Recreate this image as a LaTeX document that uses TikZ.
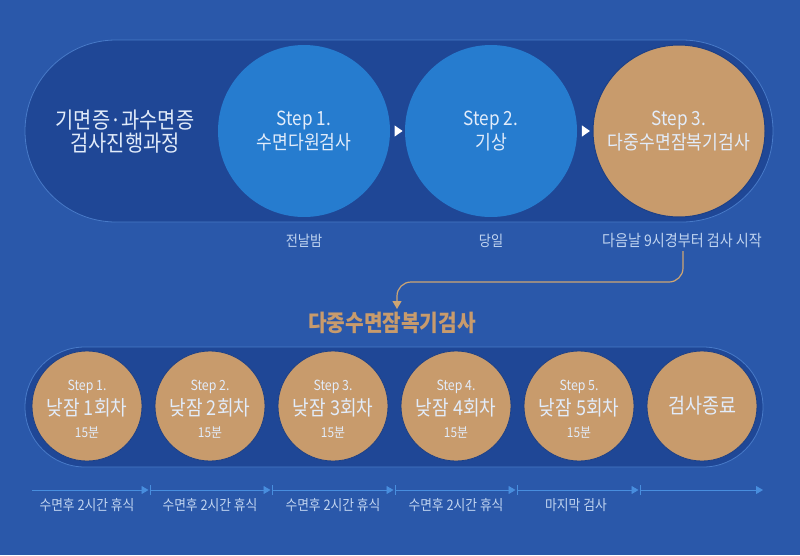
\documentclass[tikz,border=0pt]{standalone}
\usepackage{fontspec}
\setmainfont[FakeStretch=0.88]{Noto Sans CJK KR}
\usetikzlibrary{arrows.meta,shapes.geometric,calc}
\definecolor{bgblue}{RGB}{42,88,170}
\definecolor{pillblue}{RGB}{31,71,150}
\definecolor{pillline}{RGB}{72,122,200}
\definecolor{circblue}{RGB}{38,124,207}
\definecolor{tan}{RGB}{200,155,108}
\definecolor{tanline}{RGB}{205,165,115}
\definecolor{lighttxt}{RGB}{226,236,250}
\definecolor{labeltxt}{RGB}{192,212,240}
\definecolor{tline}{RGB}{72,142,222}
\tikzset{
  pill/.style={fill=pillblue, draw=pillline, line width=0.8pt},
  bigcirc/.style={circle, minimum size=172pt, inner sep=0pt, align=center, text=lighttxt,
     font=\fontsize{19.5}{24}\selectfont},
  bluecirc/.style={bigcirc, fill=circblue},
  tancirc/.style={bigcirc, fill=tan, draw=pillblue!90!black, line width=1pt},
  smallcirc/.style={circle, minimum size=110pt, inner sep=0pt, fill=tan, draw=pillblue!90!black, line width=0.8pt},
  tri/.style={isosceles triangle, isosceles triangle apex angle=70, fill=white, inner sep=0pt, minimum height=8pt, minimum width=10pt},
  toplabel/.style={text=labeltxt, font=\fontsize{15}{17}\selectfont},
  steptxt/.style={text=lighttxt, font=\fontsize{14}{16}\selectfont},
  naptxt/.style={text=lighttxt, font=\fontsize{20.5}{23}\selectfont},
  mintxt/.style={text=lighttxt, font=\fontsize{13.5}{15}\selectfont},
  tlabel/.style={text=labeltxt, font=\fontsize{14.5}{16}\selectfont},
  tl/.style={draw=tline, line width=0.9pt},
  tlarrow/.style={tl, -{Triangle[width=8pt,length=7pt]}},
  conn/.style={draw=tanline, line width=1.2pt, rounded corners=14pt, -{Triangle[width=9pt,length=8pt]}},
}
\begin{document}
\begin{tikzpicture}[x=1pt,y=-1pt]
\useasboundingbox (0,0) rectangle (800,555);
\fill[bgblue] (0,0) rectangle (800,555);

% top pill
\draw[pill, rounded corners=90.9pt] (25,40) rectangle (773,222);
\node[text=lighttxt, align=center, font=\fontsize{22.5}{23}\selectfont] (title1) at (125,132) {기면증\makebox[0.5em][c]{·}과수면증\\검사진행과정};

\node[bluecirc] (s1) at (304,131) {Step 1.\\수면다원검사};
\node[bluecirc] (s2) at (491,131) {Step 2.\\기상};
\node[tancirc] (s3) at (679,131) {Step 3.\\다중수면잠복기검사};

\node[tri] (a1) at ($(s1.east)!0.5!(s2.west)$) {};
\node[tri] (a2) at ($(s2.east)!0.5!(s3.west)$) {};

\node[toplabel] (l1) at (304,241) {전날밤};
\node[toplabel] (l2) at (491,241) {당일};
\node[toplabel, font=\fontsize{16}{18}\selectfont] (l3) at (682,241) {다음날 9시경부터 검사 시작};

% connector
\coordinate (cstart) at (683,251);
\coordinate (cbend) at (397,282);
\coordinate (ctip) at (397,309);
\draw[conn] (cstart) |- (cbend) -- (ctip);

\node[text=tan, font=\fontsize{23}{25}\selectfont\bfseries] (title2) at (392,323) {다중수면잠복기검사};

% bottom pill
\draw[pill, rounded corners=59.9pt] (25,347) rectangle (763,467);

\foreach \i/\x in {1/87,2/210,3/333,4/456,5/579}{
  \node[smallcirc] (c\i) at (\x,406) {};
  \node[steptxt] (st\i) at ($(c\i)+(0,-19)$) {Step {\i}.};
  \node[naptxt] (np\i) at ($(c\i)+(0,2)$) {낮잠 {\i}회차};
  \node[mintxt] (mn\i) at ($(c\i)+(0,26)$) {15분};
}
\node[smallcirc, text=lighttxt, font=\fontsize{21}{23}\selectfont] (c6) at (702,406) {검사종료};

% timeline
\coordinate (t0) at (32,490);
\coordinate (t1) at (150,490);
\coordinate (t2) at (272,490);
\coordinate (t3) at (395,490);
\coordinate (t4) at (517,490);
\coordinate (t5) at (640,490);
\coordinate (t6) at (763,490);
\foreach \a/\b in {t0/t1,t1/t2,t2/t3,t3/t4,t4/t5}{
  \draw[tlarrow] (\a) -- ($(\b)+(-1.5,0)$);
  \draw[tl] ($(\b)+(0,-5)$) -- ($(\b)+(0,5)$);
}
\draw[tlarrow] (t5) -- (t6);

\node[tlabel] (r1) at (87,505) {수면후 2시간 휴식};
\node[tlabel] (r2) at (210,505) {수면후 2시간 휴식};
\node[tlabel] (r3) at (333,505) {수면후 2시간 휴식};
\node[tlabel] (r4) at (456,505) {수면후 2시간 휴식};
\node[tlabel] (r5) at (576,505) {마지막 검사};
\end{tikzpicture}
\end{document}
